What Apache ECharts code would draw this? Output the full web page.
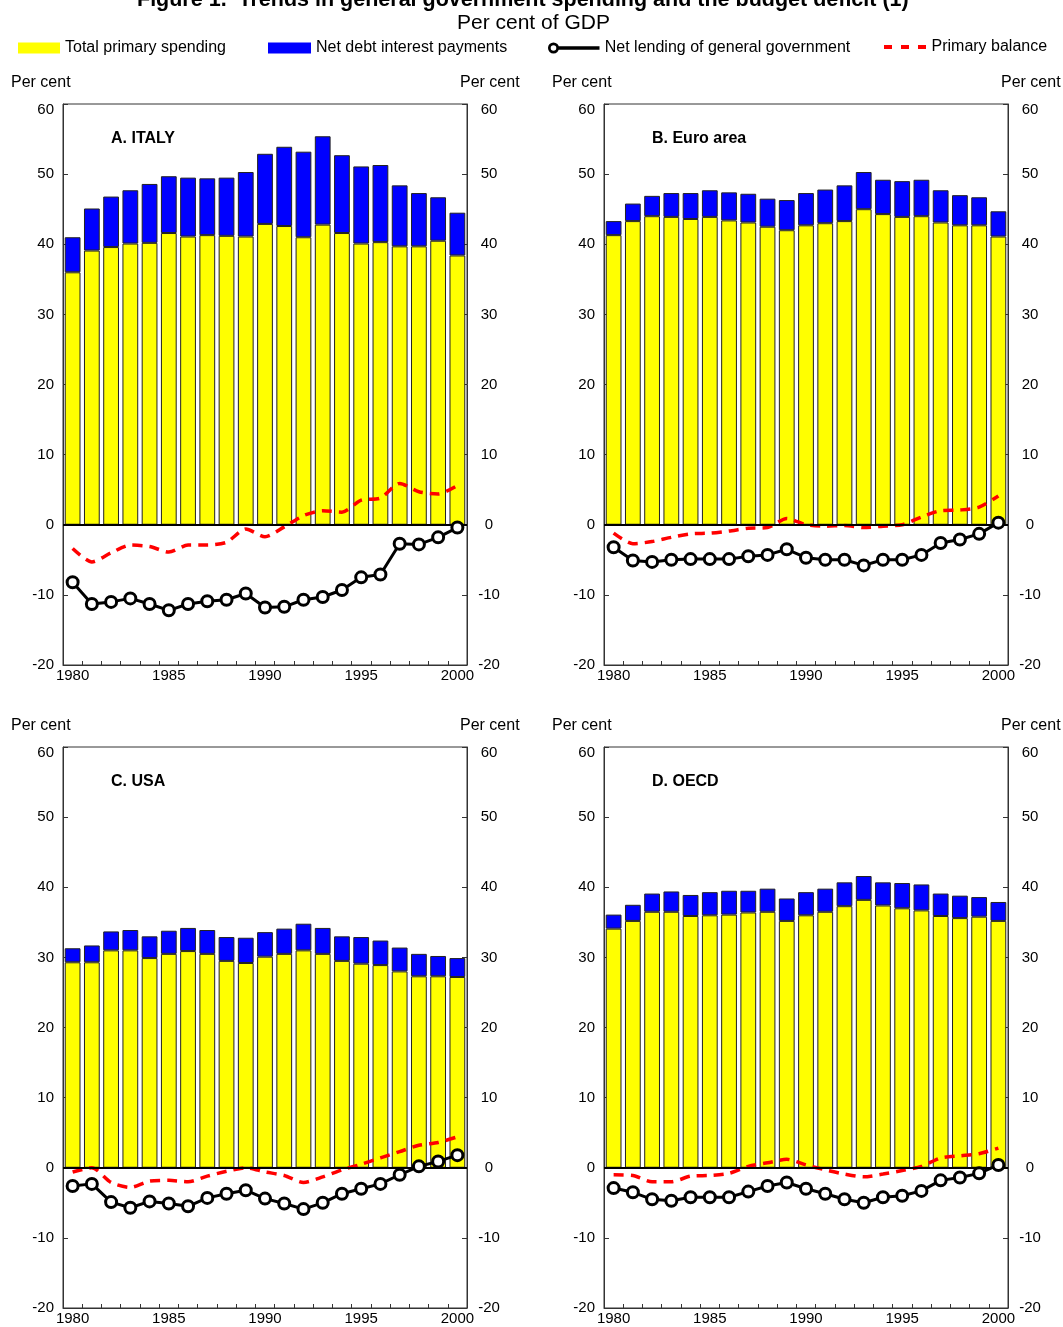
<!DOCTYPE html>
<html>
<head>
<meta charset="utf-8">
<title>Figure 1. Trends in general government spending and the budget deficit</title>
<script src="https://cdn.jsdelivr.net/npm/echarts@6/dist/echarts.min.js"></script>
<style>
  html, body { margin: 0; padding: 0; background: #fff; }
  #chart { width: 1063px; height: 1327px; }
</style>
</head>
<body>
<div id="chart"></div>
<script>
// Years on the category axis
const years = ['1980','1981','1982','1983','1984','1985','1986','1987','1988','1989','1990',
               '1991','1992','1993','1994','1995','1996','1997','1998','1999','2000'];

// Y-axis tick range (per cent of GDP)
const yMin = -20;
const yMax = 60;
const yStep = 10;

// A. Italy
const itPrimary  = [36.0,39.1,39.6,40.1,40.2,41.6,41.1,41.3,41.2,41.1,42.9,42.6,41.0,42.8,41.6,40.1,40.3,39.7,39.7,40.5,38.4];
const itInterest = [5.0,6.0,7.2,7.6,8.4,8.1,8.4,8.1,8.3,9.2,10.0,11.3,12.2,12.6,11.1,11.0,11.0,8.7,7.6,6.2,6.1];
const itNetLending = [-8.2,-11.3,-11.0,-10.5,-11.3,-12.2,-11.3,-10.9,-10.7,-9.8,-11.8,-11.7,-10.7,-10.3,-9.3,-7.5,-7.1,-2.7,-2.8,-1.8,-0.4];
const itPrimaryBalance = [-3.4,-5.3,-4.0,-2.9,-3.1,-3.9,-2.9,-2.9,-2.5,-0.6,-1.7,-0.3,1.3,2.0,1.8,3.5,3.8,5.9,4.7,4.4,5.6];

// B. Euro area
const euPrimary  = [41.3,43.3,44.0,43.9,43.6,43.9,43.4,43.1,42.5,42.0,42.7,43.0,43.3,45.0,44.3,43.9,44.0,43.1,42.7,42.7,41.1];
const euInterest = [2.0,2.5,2.9,3.4,3.7,3.8,4.0,4.1,4.0,4.3,4.6,4.8,5.1,5.3,4.9,5.1,5.2,4.6,4.3,4.0,3.6];
const euNetLending = [-3.2,-5.1,-5.3,-5.0,-4.9,-4.9,-4.9,-4.5,-4.3,-3.5,-4.7,-5.0,-5.0,-5.8,-5.0,-5.0,-4.3,-2.6,-2.1,-1.3,0.3];
const euPrimaryBalance = [-1.2,-2.7,-2.4,-1.8,-1.3,-1.2,-0.9,-0.5,-0.4,0.9,0.0,-0.2,-0.1,-0.4,-0.2,0.0,1.1,2.0,2.1,2.5,4.1];

// C. USA
const usPrimary  = [29.3,29.3,31.0,31.0,29.9,30.5,30.9,30.5,29.5,29.2,30.1,30.5,31.0,30.5,29.5,29.1,28.9,28.0,27.3,27.3,27.2];
const usInterest = [2.0,2.4,2.7,2.9,3.1,3.3,3.3,3.4,3.4,3.6,3.5,3.6,3.8,3.7,3.5,3.8,3.5,3.4,3.2,2.9,2.7];
const usNetLending = [-2.6,-2.3,-4.9,-5.7,-4.8,-5.1,-5.5,-4.3,-3.7,-3.2,-4.4,-5.1,-5.9,-5.0,-3.7,-3.0,-2.3,-1.0,0.2,0.9,1.8];
const usPrimaryBalance = [-0.6,0.0,-2.1,-2.8,-1.9,-1.8,-2.0,-1.2,-0.5,0.0,-0.6,-1.1,-2.1,-1.3,-0.3,0.5,1.4,2.3,3.2,3.6,4.4];

// D. OECD
const ocPrimary  = [34.1,35.2,36.5,36.5,35.9,36.0,36.1,36.4,36.5,35.2,36.0,36.5,37.3,38.2,37.4,37.0,36.7,35.9,35.6,35.8,35.2];
const ocInterest = [2.0,2.3,2.6,2.9,3.0,3.3,3.4,3.1,3.3,3.2,3.3,3.3,3.4,3.4,3.3,3.6,3.7,3.2,3.2,2.8,2.7];
const ocNetLending = [-2.9,-3.5,-4.5,-4.7,-4.2,-4.2,-4.2,-3.4,-2.6,-2.1,-3.0,-3.7,-4.5,-5.0,-4.2,-4.0,-3.3,-1.8,-1.4,-0.8,0.4];
const ocPrimaryBalance = [-1.0,-1.1,-2.0,-2.0,-1.2,-1.1,-0.8,0.2,0.7,1.2,0.4,-0.3,-0.9,-1.3,-0.9,-0.4,0.2,1.4,1.7,2.0,2.8];

// Series names (legend entries)
const nPrimary = 'Total primary spending';
const nInterest = 'Net debt interest payments';
const nLending = 'Net lending of general government';
const nBalance = 'Primary balance';

const panels = [
  { title: 'A. ITALY',     primary: itPrimary, interest: itInterest, lending: itNetLending, balance: itPrimaryBalance },
  { title: 'B. Euro area', primary: euPrimary, interest: euInterest, lending: euNetLending, balance: euPrimaryBalance },
  { title: 'C. USA',       primary: usPrimary, interest: usInterest, lending: usNetLending, balance: usPrimaryBalance },
  { title: 'D. OECD',      primary: ocPrimary, interest: ocInterest, lending: ocNetLending, balance: ocPrimaryBalance }
];

// Panel frames (pixels)
const frames = [
  { left: 63,  top: 104 },
  { left: 604, top: 104 },
  { left: 63,  top: 747 },
  { left: 604, top: 747 }
];
const frameW = 404;
const frameH = 561;

const FONT = '"Liberation Sans", Arial, Helvetica, sans-serif';
const YELLOW = '#FFFF00';
const BLUE = '#0000FF';
const RED = '#FF0000';

const grids = [], xAxes = [], yAxes = [], series = [], titles = [];

titles.push({
  text: 'Figure 1.  Trends in general government spending and the budget deficit (1)',
  left: 137, top: -11, padding: 0,
  textStyle: { fontFamily: FONT, fontSize: 21.5, fontWeight: 'bold', color: '#000' }
});
titles.push({
  text: 'Per cent of GDP',
  left: 457, top: 13, padding: 0,
  textStyle: { fontFamily: FONT, fontSize: 21, fontWeight: 'normal', color: '#000' }
});

function yAxisLabel(pos) {
  return {
    color: '#000', fontFamily: FONT, fontSize: 15,
    margin: pos === 'left' ? 9 : 22,
    align: pos === 'left' ? 'right' : 'center',
    formatter: function (v) { return v === yMax ? '{top|' + v + '}' : String(v); },
    rich: { top: { padding: [12, 0, 0, 0], fontSize: 15, fontFamily: FONT, color: '#000' } }
  };
}

panels.forEach(function (p, i) {
  const f = frames[i];
  grids.push({
    left: f.left, top: f.top, width: frameW, height: frameH,
    show: true, borderColor: '#333', borderWidth: 1, backgroundColor: 'transparent'
  });
  xAxes.push({
    type: 'category', gridIndex: i, data: years, boundaryGap: true,
    axisLine: { show: true, onZero: false, lineStyle: { color: '#333', width: 1 } },
    axisTick: { show: true, inside: true, interval: 0, length: 4, lineStyle: { color: '#333' } },
    axisLabel: {
      interval: function (idx) { return idx % 5 === 0; },
      color: '#000', fontFamily: FONT, fontSize: 15, margin: 3
    },
    splitLine: { show: false }
  });
  ['left', 'right'].forEach(function (pos) {
    yAxes.push({
      type: 'value', gridIndex: i, position: pos,
      min: yMin, max: yMax, interval: yStep,
      axisLine: { show: true, lineStyle: { color: '#333', width: 1 } },
      axisTick: { show: true, inside: true, length: 5, lineStyle: { color: '#333' } },
      axisLabel: yAxisLabel(pos),
      splitLine: { show: false }
    });
  });
  const yLeft = i * 2;

  series.push({
    name: nPrimary, type: 'bar', xAxisIndex: i, yAxisIndex: yLeft,
    stack: 'spend' + i, data: p.primary, barWidth: '82%',
    itemStyle: { color: YELLOW, borderColor: '#222', borderWidth: 1 },
    markLine: {
      silent: true, symbol: ['none', 'none'], label: { show: false },
      lineStyle: { color: '#000', width: 2, type: 'solid' },
      data: [{ yAxis: 0 }]
    },
    z: 2
  });
  series.push({
    name: nInterest, type: 'bar', xAxisIndex: i, yAxisIndex: yLeft,
    stack: 'spend' + i, data: p.interest, barWidth: '82%',
    itemStyle: { color: BLUE, borderColor: '#222', borderWidth: 1 },
    z: 2
  });
  series.push({
    name: nBalance, type: 'line', xAxisIndex: i, yAxisIndex: yLeft,
    data: p.balance, symbol: 'none', smooth: 0.25,
    lineStyle: { color: RED, width: 3.5, type: [10, 7] },
    itemStyle: { color: RED },
    z: 4
  });
  series.push({
    name: nLending, type: 'line', xAxisIndex: i, yAxisIndex: yLeft,
    data: p.lending, symbol: 'circle', symbolSize: 11, showSymbol: true,
    lineStyle: { color: '#000', width: 3 },
    itemStyle: { color: '#fff', borderColor: '#000', borderWidth: 3 },
    z: 5
  });

  // "Per cent" captions over each axis and the panel heading
  const capTop = f.top - 29;
  titles.push({ text: 'Per cent', left: f.left - 52, top: capTop, padding: 0,
    textStyle: { fontFamily: FONT, fontSize: 16, fontWeight: 'normal', color: '#000' } });
  titles.push({ text: 'Per cent', left: f.left + frameW - 7, top: capTop, padding: 0,
    textStyle: { fontFamily: FONT, fontSize: 16, fontWeight: 'normal', color: '#000' } });
  titles.push({ text: p.title, left: f.left + 48, top: f.top + 27, padding: 0,
    textStyle: { fontFamily: FONT, fontSize: 16, fontWeight: 'bold', color: '#000' } });
});

const legendText = { fontFamily: FONT, fontSize: 16, color: '#000' };
const legends = [
  { left: 18, top: 40, itemWidth: 42, itemHeight: 11, data: [{
      name: nPrimary, icon: 'rect', itemStyle: { color: YELLOW, borderWidth: 0 }
    }] },
  { left: 268, top: 40, itemWidth: 43, itemHeight: 11, data: [{
      name: nInterest, icon: 'rect', itemStyle: { color: BLUE, borderWidth: 0 }
    }] },
  { left: 548, top: 40, itemWidth: 52, itemHeight: 11, data: [{
      name: nLending,
      icon: 'path://M0.5,6 A5.5,5.5 0 1,1 11.5,6 A5.5,5.5 0 1,1 0.5,6 Z M3.2,6 A2.8,2.8 0 1,0 8.8,6 A2.8,2.8 0 1,0 3.2,6 Z M11,4.2 L52,4.2 L52,7.8 L11,7.8 Z',
      itemStyle: { color: '#000', borderWidth: 0 }
    }] },
  { left: 884, top: 39, itemWidth: 43, itemHeight: 4, data: [{
      name: nBalance,
      icon: 'path://M0,0 L8,0 L8,4 L0,4 Z M17,0 L25,0 L25,4 L17,4 Z M34,0 L42,0 L42,4 L34,4 Z',
      itemStyle: { color: RED, borderWidth: 0 }
    }] }
].map(function (l) {
  return Object.assign({ padding: 0, itemGap: 0, selectedMode: false, textStyle: legendText }, l);
});

const chart = echarts.init(document.getElementById('chart'), null, { renderer: 'canvas' });
chart.setOption({
  animation: false,
  backgroundColor: '#fff',
  textStyle: { fontFamily: FONT },
  title: titles,
  legend: legends,
  grid: grids,
  xAxis: xAxes,
  yAxis: yAxes,
  series: series
});
</script>
</body>
</html>
